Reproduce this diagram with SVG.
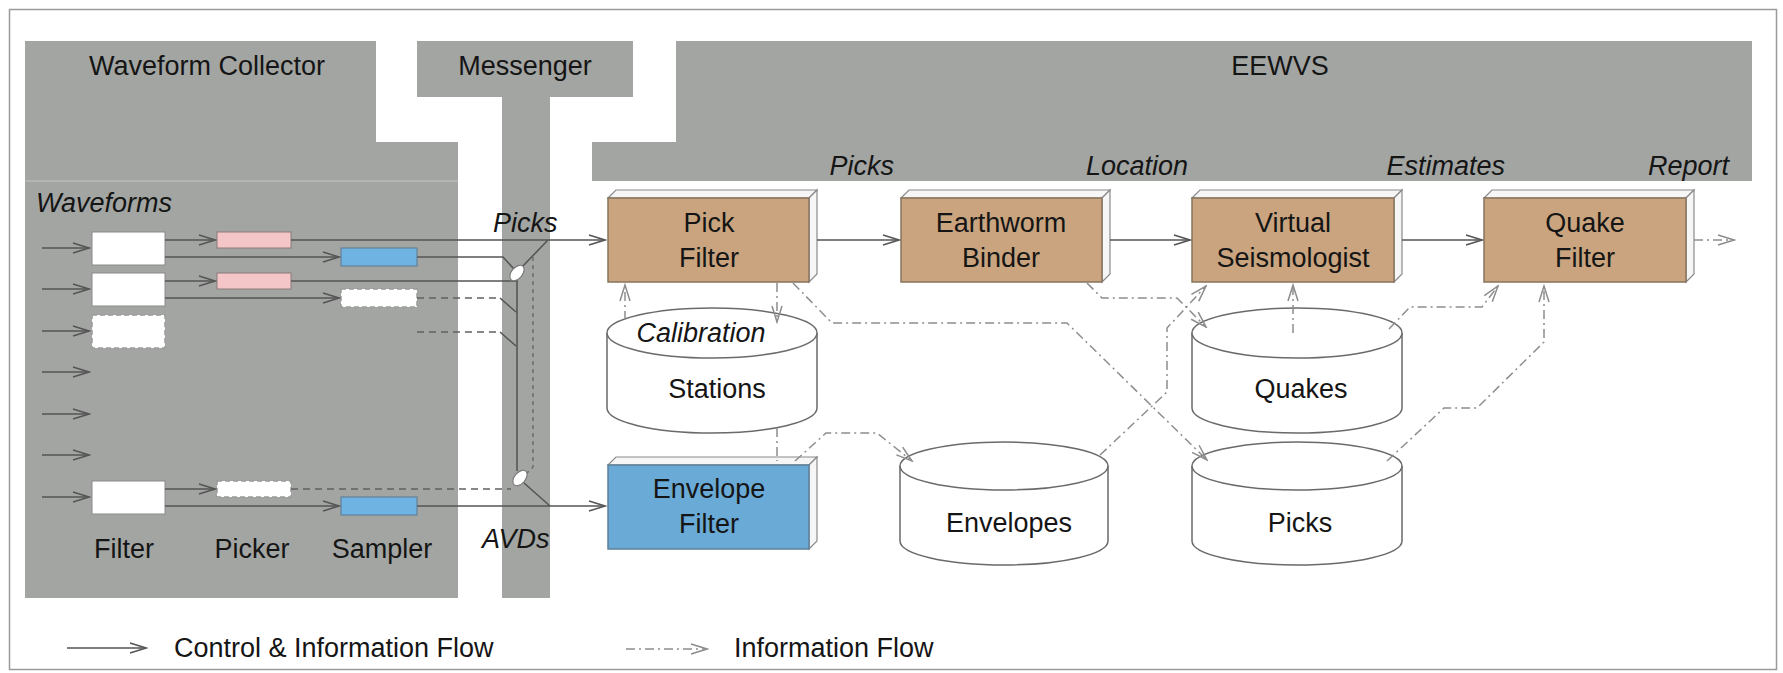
<svg xmlns="http://www.w3.org/2000/svg" width="1783" height="673" viewBox="0 0 1783 673">
  <style>
    .panel { fill: #a3a5a3; }
    .t { font-family: "Liberation Sans", Arial, sans-serif; font-size: 27px; fill: #151515; }
    .c { text-anchor: middle; }
    .e { text-anchor: end; }
    .i { font-style: italic; }
    .proc { fill: #c9a47f; stroke: #87745f; stroke-width: 1.5; }
    .proc-blue { fill: #6aaad6; stroke: #5f7f98; stroke-width: 1.5; }
    .face { fill: #f6f6f6; stroke: #8a8a8a; stroke-width: 1.2; }
    .cyl { fill: #ffffff; stroke: #6a6a6a; stroke-width: 1.5; }
    .wbox { fill: #ffffff; stroke: #8a8a8a; stroke-width: 1; }
    .wdash { fill: #ffffff; stroke: #9a9a9a; stroke-width: 1.5; stroke-dasharray: 5 3; }
    .pick { fill: #f5c6c8; stroke: #8a7a7a; stroke-width: 1; }
    .samp { fill: #6fb3e2; stroke: #5a7a92; stroke-width: 1; }
    .flow { fill: none; stroke: #555555; stroke-width: 1.6; }
    .dash { fill: none; stroke: #606060; stroke-width: 1.6; stroke-dasharray: 7 5; }
    .dot { fill: none; stroke: #707070; stroke-width: 1.6; stroke-dasharray: 4 4; }
    .info { fill: none; stroke: #8d8d8d; stroke-width: 1.5; stroke-dasharray: 9 4 2 4; }
    .joint { fill: #ffffff; stroke: #7a7a7a; stroke-width: 1.2; }
  </style>
  <defs>
    <marker id="ah" markerUnits="userSpaceOnUse" markerWidth="20" markerHeight="14" viewBox="0 0 20 14" refX="18" refY="7" orient="auto">
      <path d="M2,2 L18,7 L2,12" fill="none" stroke="#555555" stroke-width="1.5"/>
    </marker>
    <marker id="ahi" markerUnits="userSpaceOnUse" markerWidth="20" markerHeight="14" viewBox="0 0 20 14" refX="18" refY="7" orient="auto">
      <path d="M2,2 L18,7 L2,12" fill="none" stroke="#8d8d8d" stroke-width="1.5"/>
    </marker>
  </defs>

  <rect x="0" y="0" width="1783" height="673" fill="#ffffff"/>
  <rect x="9.5" y="9.5" width="1767" height="660" fill="none" stroke="#9a9a9a" stroke-width="1.5"/>

  <!-- subsystem panels -->
  <g id="panel-collector">
    <path class="panel" d="M25,41 H376 V142 H458 V598 H25 Z"/>
    <line x1="25" y1="181" x2="458" y2="181" stroke="#b9bbb9" stroke-width="1.5"/>
    <text class="t c" x="207" y="75">Waveform Collector</text>
    <text class="t i" x="36" y="212">Waveforms</text>
    <text class="t c" x="124" y="558">Filter</text>
    <text class="t c" x="252" y="558">Picker</text>
    <text class="t c" x="382" y="558">Sampler</text>
  </g>
  <g id="panel-messenger">
    <path class="panel" d="M417,41 H633 V97 H550 V598 H502 V97 H417 Z"/>
    <text class="t c" x="525" y="75">Messenger</text>
    <text class="t i" x="493" y="232">Picks</text>
    <text class="t i" x="482" y="548">AVDs</text>
  </g>
  <g id="panel-eewvs">
    <path class="panel" d="M676,41 H1752 V181 H592 V142 H676 Z"/>
    <text class="t c" x="1280" y="75">EEWVS</text>
    <text class="t i e" x="894" y="175">Picks</text>
    <text class="t i e" x="1188" y="175">Location</text>
    <text class="t i e" x="1505" y="175">Estimates</text>
    <text class="t i e" x="1729" y="175">Report</text>
  </g>

  <!-- per-channel filter / picker / sampler modules -->
  <g id="filter-1"><rect class="wbox" x="92" y="232" width="73" height="33"/></g>
  <g id="filter-2"><rect class="wbox" x="92" y="273" width="73" height="33"/></g>
  <g id="filter-3"><rect class="wdash" x="92" y="315" width="73" height="33"/></g>
  <g id="filter-7"><rect class="wbox" x="92" y="481" width="73" height="33"/></g>
  <g id="picker-1"><rect class="pick" x="217" y="232" width="74" height="16"/></g>
  <g id="picker-2"><rect class="pick" x="217" y="273" width="74" height="16"/></g>
  <g id="picker-7"><rect class="wdash" x="217" y="481" width="74" height="16"/></g>
  <g id="sampler-1"><rect class="samp" x="341" y="248" width="76" height="18"/></g>
  <g id="sampler-2"><rect class="wdash" x="341" y="289" width="76" height="18"/></g>
  <g id="sampler-7"><rect class="samp" x="341" y="497" width="76" height="18"/></g>

  <!-- processing modules -->
  <g id="pick-filter">
    <polygon class="face" points="608,198 616,190 817,190 809,198"/>
    <polygon class="face" points="809,198 817,190 817,274 809,282"/>
    <rect class="proc" x="608" y="198" width="201" height="84"/>
    <text class="t c" x="709" y="232">Pick</text>
    <text class="t c" x="709" y="267">Filter</text>
  </g>
  <g id="earthworm-binder">
    <polygon class="face" points="901,198 909,190 1110,190 1102,198"/>
    <polygon class="face" points="1102,198 1110,190 1110,274 1102,282"/>
    <rect class="proc" x="901" y="198" width="201" height="84"/>
    <text class="t c" x="1001" y="232">Earthworm</text>
    <text class="t c" x="1001" y="267">Binder</text>
  </g>
  <g id="virtual-seismologist">
    <polygon class="face" points="1192,198 1200,190 1402,190 1394,198"/>
    <polygon class="face" points="1394,198 1402,190 1402,274 1394,282"/>
    <rect class="proc" x="1192" y="198" width="202" height="84"/>
    <text class="t c" x="1293" y="232">Virtual</text>
    <text class="t c" x="1293" y="267">Seismologist</text>
  </g>
  <g id="quake-filter">
    <polygon class="face" points="1484,198 1492,190 1694,190 1686,198"/>
    <polygon class="face" points="1686,198 1694,190 1694,274 1686,282"/>
    <rect class="proc" x="1484" y="198" width="202" height="84"/>
    <text class="t c" x="1585" y="232">Quake</text>
    <text class="t c" x="1585" y="267">Filter</text>
  </g>
  <g id="envelope-filter">
    <polygon class="face" points="608,465 616,457 817,457 809,465"/>
    <polygon class="face" points="809,465 817,457 817,541 809,549"/>
    <rect class="proc-blue" x="608" y="465" width="201" height="84"/>
    <text class="t c" x="709" y="498">Envelope</text>
    <text class="t c" x="709" y="533">Filter</text>
  </g>

  <!-- data stores -->
  <g id="stations">
    <path class="cyl" d="M607,333 V408 A105,25 0 0 0 817,408 V333"/>
    <ellipse class="cyl" cx="712" cy="333" rx="105" ry="25"/>
    <text class="t i c" x="701" y="342">Calibration</text>
    <text class="t c" x="717" y="398">Stations</text>
  </g>
  <g id="quakes">
    <path class="cyl" d="M1192,333 V408 A105,25 0 0 0 1402,408 V333"/>
    <ellipse class="cyl" cx="1297" cy="333" rx="105" ry="25"/>
    <text class="t c" x="1301" y="398">Quakes</text>
  </g>
  <g id="envelopes">
    <path class="cyl" d="M900,466 V541 A104,24 0 0 0 1108,541 V466"/>
    <ellipse class="cyl" cx="1004" cy="466" rx="104" ry="24"/>
    <text class="t c" x="1009" y="532">Envelopes</text>
  </g>
  <g id="picks">
    <path class="cyl" d="M1192,466 V541 A105,24 0 0 0 1402,541 V466"/>
    <ellipse class="cyl" cx="1297" cy="466" rx="105" ry="24"/>
    <text class="t c" x="1300" y="532">Picks</text>
  </g>

  <!-- connectors -->
  <g id="connectors">
    <!-- waveform inputs -->
    <line class="flow" x1="42" y1="248" x2="89" y2="248" marker-end="url(#ah)"/>
    <line class="flow" x1="42" y1="289" x2="89" y2="289" marker-end="url(#ah)"/>
    <line class="flow" x1="42" y1="331" x2="89" y2="331" marker-end="url(#ah)"/>
    <line class="flow" x1="42" y1="372" x2="89" y2="372" marker-end="url(#ah)"/>
    <line class="flow" x1="42" y1="414" x2="89" y2="414" marker-end="url(#ah)"/>
    <line class="flow" x1="42" y1="455" x2="89" y2="455" marker-end="url(#ah)"/>
    <line class="flow" x1="42" y1="497" x2="89" y2="497" marker-end="url(#ah)"/>

    <!-- filter to picker / sampler -->
    <line class="flow" x1="165" y1="240" x2="215" y2="240" marker-end="url(#ah)"/>
    <line class="flow" x1="165" y1="257" x2="339" y2="257" marker-end="url(#ah)"/>
    <line class="flow" x1="165" y1="281" x2="215" y2="281" marker-end="url(#ah)"/>
    <line class="flow" x1="165" y1="298" x2="339" y2="298" marker-end="url(#ah)"/>
    <line class="flow" x1="165" y1="489" x2="215" y2="489" marker-end="url(#ah)"/>
    <line class="flow" x1="165" y1="506" x2="339" y2="506" marker-end="url(#ah)"/>

    <!-- messenger bus -->
    <line class="flow" x1="291" y1="240" x2="605" y2="240" marker-end="url(#ah)"/>
    <polyline class="flow" points="417,257 503,257 514,269"/>
    <line class="flow" x1="291" y1="281" x2="517" y2="281"/>
    <polyline class="dash" points="417,298 500,298"/>
    <line class="flow" x1="500" y1="298" x2="516" y2="312"/>
    <polyline class="dash" points="417,332 500,332"/>
    <line class="flow" x1="500" y1="332" x2="516" y2="346"/>
    <polyline class="dash" points="291,489 511,489"/>
    <line class="flow" x1="417" y1="506" x2="605" y2="506" marker-end="url(#ah)"/>
    <line class="flow" x1="517" y1="279" x2="517" y2="471"/>
    <polyline class="dot" points="533,257 533,467 525,475"/>
    <line class="flow" x1="521" y1="268" x2="548" y2="240"/>
    <line class="flow" x1="524" y1="483" x2="550" y2="506"/>
    <ellipse class="joint" cx="517" cy="273" rx="9" ry="5.5" transform="rotate(-50 517 273)"/>
    <ellipse class="joint" cx="520" cy="478" rx="9" ry="5.5" transform="rotate(-50 520 478)"/>

    <!-- control flow between modules -->
    <line class="flow" x1="817" y1="240" x2="899" y2="240" marker-end="url(#ah)"/>
    <line class="flow" x1="1110" y1="240" x2="1190" y2="240" marker-end="url(#ah)"/>
    <line class="flow" x1="1402" y1="240" x2="1482" y2="240" marker-end="url(#ah)"/>
    <line class="info" x1="1694" y1="240" x2="1734" y2="240" marker-end="url(#ahi)"/>

    <!-- information flow -->
    <line class="info" x1="625" y1="320" x2="625" y2="285" marker-end="url(#ahi)"/>
    <line class="info" x1="777" y1="283" x2="777" y2="322" marker-end="url(#ahi)"/>
    <line class="info" x1="777" y1="428" x2="777" y2="461"/>
    <polyline class="info" points="793,283 832,323 1067,323 1207,460" marker-end="url(#ahi)"/>
    <polyline class="info" points="795,461 826,433 877,433 912,461" marker-end="url(#ahi)"/>
    <polyline class="info" points="1087,283 1102,298 1177,298 1206,327" marker-end="url(#ahi)"/>
    <polyline class="info" points="1100,455 1167,392 1167,328 1206,286" marker-end="url(#ahi)"/>
    <line class="info" x1="1293" y1="333" x2="1293" y2="285" marker-end="url(#ahi)"/>
    <polyline class="info" points="1389,329 1410,307 1482,307 1498,286" marker-end="url(#ahi)"/>
    <polyline class="info" points="1387,461 1444,408 1477,408 1544,342 1544,286" marker-end="url(#ahi)"/>
  </g>

  <!-- legend -->
  <g id="legend">
    <line class="flow" x1="67" y1="648" x2="146" y2="648" marker-end="url(#ah)" stroke="#777777"/>
    <text class="t" x="174" y="657">Control &amp; Information Flow</text>
    <line class="info" x1="626" y1="649" x2="707" y2="649" marker-end="url(#ahi)"/>
    <text class="t" x="734" y="657">Information Flow</text>
  </g>
</svg>
